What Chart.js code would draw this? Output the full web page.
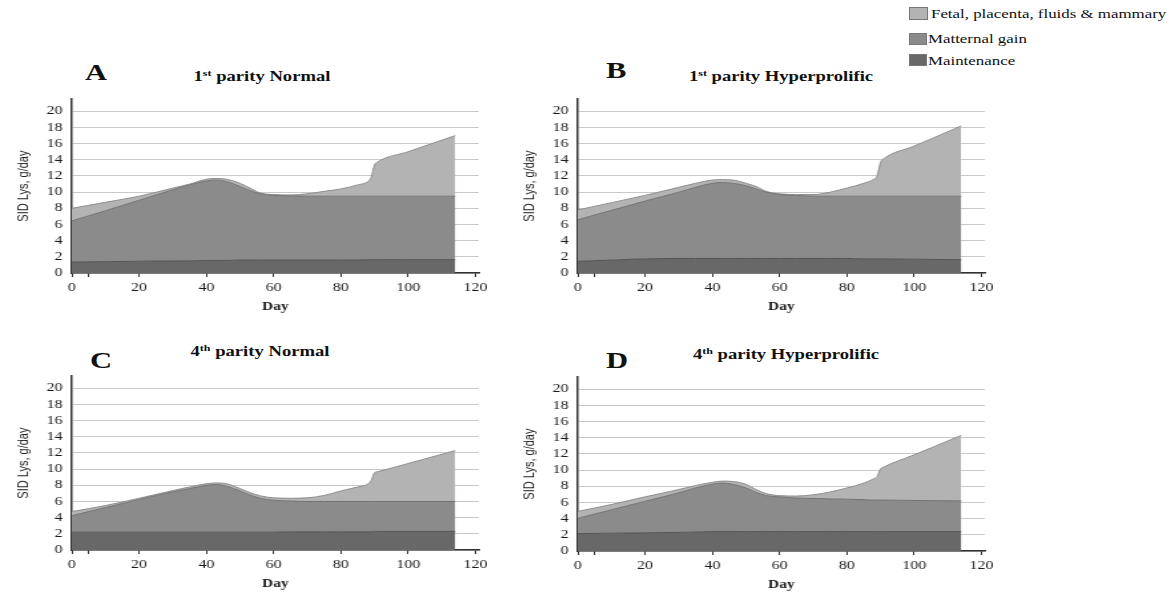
<!DOCTYPE html>
<html>
<head>
<meta charset="utf-8">
<script src="https://cdn.jsdelivr.net/npm/chart.js@4.4.0/dist/chart.umd.min.js"></script>
<style>
  html, body { margin:0; padding:0; background:#fff; }
  body { width:1171px; height:592px; position:relative; overflow:hidden; font-family:'Liberation Serif', serif; color:#111; }
  .panel { position:absolute; transform-origin:0 0; transform:scaleX(1.33); }
  .panel canvas { display:block; }
  .letter { position:absolute; font:bold 23px/1 'Liberation Serif', serif; transform-origin:0 0; transform:scaleX(1.33); white-space:nowrap; }
  .ttl { position:absolute; font:bold 14px/1 'Liberation Serif', serif; transform:translateX(-50%) scaleX(1.33); white-space:nowrap; }
  .ttl .sup { font-size:9px; vertical-align:5px; }
  .leg { position:absolute; font:12.7px/1 'Liberation Serif', serif; transform-origin:0 0; transform:scaleX(1.33); white-space:nowrap; color:#111; }
  .box { position:absolute; box-sizing:border-box; border:1px solid #777; }
</style>
</head>
<body>
<div id="root"></div>
<script>
// ---------------- data ----------------
const days = [0, 10, 20, 30, 35, 40, 43, 46, 50, 53, 56, 60, 65, 70, 75, 80, 85, 88, 89, 90, 91, 100, 114];
const seriesNames = ['Maintenance', 'Matternal gain', 'Fetal, placenta, fluids & mammary'];
const xTickValues = [0, 20, 40, 60, 80, 100, 120];
const xMarkDay = 5;
const yTickValues = [0, 2, 4, 6, 8, 10, 12, 14, 16, 18, 20];
const panelLetters = ['A', 'B', 'C', 'D'];
const panelTitles = [['1', 'st', ' parity Normal'], ['1', 'st', ' parity Hyperprolific'], ['4', 'th', ' parity Normal'], ['4', 'th', ' parity Hyperprolific']];

const maintenanceA  = [1.35, 1.4, 1.45, 1.5, 1.5, 1.55, 1.55, 1.55, 1.6, 1.6, 1.6, 1.6, 1.6, 1.6, 1.6, 1.6, 1.6, 1.65, 1.65, 1.65, 1.65, 1.65, 1.65];
const maternalGainA = [5.1, 6.3, 7.55, 8.8, 9.4, 9.85, 9.95, 9.75, 9.1, 8.6, 8.2, 8.0, 7.95, 7.9, 7.9, 7.9, 7.9, 7.85, 7.85, 7.85, 7.85, 7.85, 7.85];
const fetalA        = [1.55, 1.05, 0.5, 0.2, 0.1, 0.2, 0.2, 0.3, 0.4, 0.3, 0.1, 0.1, 0.1, 0.3, 0.6, 0.9, 1.4, 1.8, 2.3, 3.85, 4.25, 5.5, 7.5];

const maintenanceB  = [1.45, 1.6, 1.75, 1.8, 1.8, 1.8, 1.8, 1.8, 1.8, 1.8, 1.8, 1.8, 1.8, 1.8, 1.8, 1.8, 1.75, 1.75, 1.75, 1.75, 1.75, 1.7, 1.65];
const maternalGainB = [5.15, 6.15, 7.15, 8.2, 8.8, 9.3, 9.4, 9.3, 9.0, 8.6, 8.2, 7.9, 7.8, 7.7, 7.7, 7.7, 7.75, 7.75, 7.75, 7.75, 7.75, 7.8, 7.85];
const fetalB        = [1.2, 0.95, 0.7, 0.6, 0.5, 0.4, 0.35, 0.4, 0.3, 0.3, 0.1, 0.1, 0.1, 0.2, 0.5, 1.0, 1.6, 2.1, 2.5, 4.2, 4.65, 6.2, 8.7];

const maintenanceC  = [2.2, 2.2, 2.2, 2.2, 2.2, 2.2, 2.2, 2.2, 2.2, 2.2, 2.2, 2.2, 2.25, 2.25, 2.25, 2.25, 2.25, 2.25, 2.25, 2.3, 2.3, 2.3, 2.3];
const maternalGainC = [2.05, 3.05, 4.05, 5.0, 5.4, 5.8, 5.9, 5.7, 5.1, 4.6, 4.2, 3.95, 3.8, 3.75, 3.75, 3.75, 3.75, 3.75, 3.75, 3.7, 3.7, 3.7, 3.7];
const fetalC        = [0.5, 0.25, 0.15, 0.15, 0.2, 0.2, 0.2, 0.3, 0.3, 0.3, 0.3, 0.3, 0.35, 0.45, 0.75, 1.3, 1.8, 2.15, 2.6, 3.55, 3.7, 4.7, 6.3];

const maintenanceD  = [2.15, 2.2, 2.25, 2.3, 2.35, 2.4, 2.4, 2.4, 2.4, 2.4, 2.4, 2.4, 2.4, 2.4, 2.4, 2.4, 2.4, 2.4, 2.4, 2.4, 2.4, 2.4, 2.4];
const maternalGainD = [1.9, 2.9, 3.9, 4.9, 5.45, 5.85, 6.0, 5.85, 5.4, 4.85, 4.45, 4.3, 4.15, 4.1, 4.05, 4.0, 3.95, 3.9, 3.9, 3.9, 3.9, 3.85, 3.8];
const fetalD        = [0.85, 0.65, 0.55, 0.4, 0.3, 0.25, 0.25, 0.35, 0.45, 0.35, 0.25, 0.15, 0.25, 0.45, 0.85, 1.4, 2.05, 2.65, 2.9, 3.85, 4.1, 5.65, 8.1];

// ---------------- styling / layout ----------------
const COLORS = { dark:'#686868', mid:'#8b8b8b', light:'#b3b3b3' };
const EDGES  = { dark:'#555555', mid:'#737373', light:'#8e8e8e' };

const panels = [
  { series:[maintenanceA, maternalGainA, fetalA], left:0,     top:85,  padR:14, letter:{x:85,  y:60.7},  title:{cx:262, y:69} },
  { series:[maintenanceB, maternalGainB, fetalB], left:505.5, top:85,  padR:16, letter:{x:606, y:59},    title:{cx:781, y:69} },
  { series:[maintenanceC, maternalGainC, fetalC], left:0,     top:362, padR:14, letter:{x:90,  y:348.7}, title:{cx:260, y:344.3} },
  { series:[maintenanceD, maternalGainD, fetalD], left:505.5, top:363, padR:16, letter:{x:606, y:348.7}, title:{cx:786, y:346.6} }
];

const root = document.getElementById('root');

function el(tag, cls, style) {
  const e = document.createElement(tag);
  if (cls) e.className = cls;
  Object.assign(e.style, style || {});
  root.appendChild(e);
  return e;
}

// legend (HTML)
const legendRows = [
  { name:seriesNames[2], color:COLORS.light, box:{x:909, y:7,  w:19, h:13}, tx:931, ty:8.4 },
  { name:seriesNames[1], color:COLORS.mid,   box:{x:909, y:33, w:18, h:12}, tx:928, ty:32.7 },
  { name:seriesNames[0], color:COLORS.dark,  box:{x:909, y:54, w:18, h:12}, tx:928, ty:54.7 }
];
legendRows.forEach(r => {
  el('div', 'box', { left:r.box.x+'px', top:r.box.y+'px', width:r.box.w+'px', height:r.box.h+'px', background:r.color });
  el('div', 'leg', { left:r.tx+'px', top:r.ty+'px' }).textContent = r.name;
});

panels.forEach((p, i) => {
  el('div', 'letter', { left:p.letter.x+'px', top:p.letter.y+'px' }).textContent = panelLetters[i];
  const t = panelTitles[i];
  const tt = el('div', 'ttl', { left:p.title.cx+'px', top:p.title.y+'px' });
  tt.appendChild(document.createTextNode(t[0]));
  const sp = document.createElement('span'); sp.className = 'sup'; sp.textContent = t[1]; tt.appendChild(sp);
  tt.appendChild(document.createTextNode(t[2]));

  const wrap = el('div', 'panel', { left:p.left+'px', top:p.top+'px' });
  const cv = document.createElement('canvas');
  const W = 54 + 306 + p.padR;
  cv.width = W; cv.height = 230;
  cv.style.width = W + 'px'; cv.style.height = '230px';
  wrap.appendChild(cv);

  const pts = arr => days.map((d, k) => ({ x:d, y:arr[k] }));
  const keys = ['dark', 'mid', 'light'];
  const datasets = p.series.map((arr, k) => ({
    label: seriesNames[k],
    data: pts(arr),
    fill: k === 0 ? 'origin' : '-1',
    backgroundColor: COLORS[keys[k]],
    borderColor: EDGES[keys[k]],
    borderWidth: 1,
    pointRadius: 0,
    cubicInterpolationMode: 'monotone'
  }));

  new Chart(cv, {
    type: 'line',
    data: { datasets },
    options: {
      responsive: false,
      animation: false,
      events: [],
      layout: { padding: { top:10, right:p.padR, bottom:0, left:0 } },
      plugins: { legend:{ display:false }, tooltip:{ enabled:false }, title:{ display:false } },
      scales: {
        x: {
          type: 'linear', min: 0, max: 121, z: 1,
          afterBuildTicks: s => { s.ticks = xTickValues.concat([xMarkDay]).sort((a, b) => a - b).map(v => ({ value:v })); },
          afterFit: s => { s.height = 42; },
          ticks: {
            autoSkip: false, maxRotation: 0, padding: 4, color: '#1a1a1a',
            font: { family:"'Liberation Serif', serif", size:12 },
            callback: v => (v === xMarkDay ? '' : String(v))
          },
          grid: { drawOnChartArea:false, drawTicks:true, tickLength:4, tickColor:'#333', tickWidth:1 },
          border: { display:true, color:'#333', width:1.5 },
          title: { display:true, text:'Day', color:'#1a1a1a', font:{ family:"'Liberation Serif', serif", size:11.5, weight:'bold' }, padding:{ top:0, bottom:1 } }
        },
        y: {
          stacked: true, min: 0, max: 21.5, z: 1,
          afterBuildTicks: s => { s.ticks = yTickValues.map(v => ({ value:v })); },
          afterFit: s => { s.width = 54; },
          ticks: { autoSkip: false, padding: 7, color: '#1a1a1a', font: { family:"'Liberation Serif', serif", size:12 } },
          grid: { color:'rgba(0,0,0,0.21)', lineWidth:1, drawTicks:false },
          border: { display:true, color:'#333', width:1.5 },
          title: { display:true, text:'SID Lys, g/day', color:'#222', font:{ family:"'Liberation Sans', sans-serif", size:11 }, padding:{ top:11, bottom:0 } }
        }
      }
    }
  });
});
</script>
</body>
</html>
